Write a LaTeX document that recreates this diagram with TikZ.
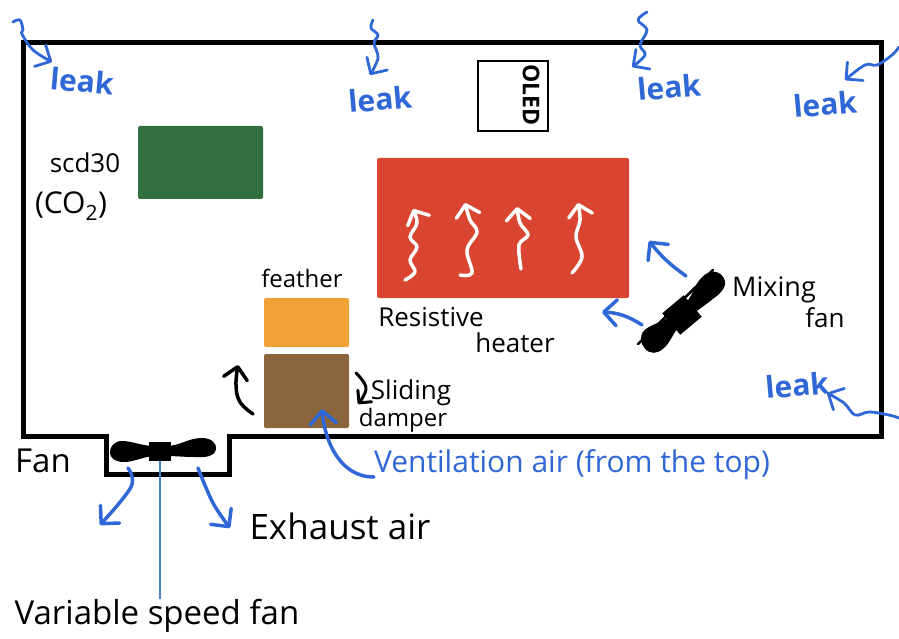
\documentclass[tikz,border=0pt]{standalone}
\usepackage{fontspec}
\setmainfont{Open Sans}
\usepackage{xcolor}
\definecolor{leakblue}{RGB}{47,103,214}
\definecolor{wireblue}{RGB}{74,127,200}
\definecolor{sensorgreen}{RGB}{51,112,63}
\definecolor{heaterred}{RGB}{217,69,48}
\definecolor{featherorange}{RGB}{237,161,55}
\definecolor{damperbrown}{RGB}{139,102,60}
\usetikzlibrary{arrows.meta,positioning,calc}
\tikzset{
    panel/.style={rectangle, rounded corners=2pt, inner sep=0pt},
    blacktext/.style={inner sep=0pt, text=black, font=\fontsize{26}{30}\selectfont},
    bigtext/.style={inner sep=0pt, text=black, font=\fontsize{33}{36}\selectfont},
    bluetext/.style={inner sep=0pt, text=leakblue, font=\fontsize{30}{34}\selectfont},
    leaktext/.style={inner sep=0pt, text=leakblue, font=\fontsize{30}{34}\selectfont\bfseries},
    flow/.style={-{Straight Barb[length=13pt,width=26pt,round]}, draw=leakblue, line width=3.5pt, line cap=round, line join=round},
    leakflow/.style={-{Straight Barb[length=12pt,width=24pt,round]}, draw=leakblue, line width=2.8pt, line cap=round, line join=round},
    handarrow/.style={-{Straight Barb[length=12pt,width=24pt,round]}, draw=black, line width=3.5pt, line cap=round, line join=round},
    heatwave/.style={-{Straight Barb[length=11pt,width=24pt,round]}, draw=white, line width=3.5pt, line cap=round, line join=round},
    fanhub/.style={rectangle, fill=black, minimum width=22pt, minimum height=19pt, inner sep=0pt},
}
\newcommand{\fanblades}{
    \fill[black] (6,-5) .. controls (20,-5) and (28,-13) .. (42,-13) .. controls (52,-13) and (57,-7) .. (56,-2) .. controls (55,5) and (46,7) .. (34,6) .. controls (24,6) and (16,5) .. (6,5) -- cycle;
    \fill[black] (-6,-5) .. controls (-18,-5) and (-28,-10) .. (-38,-10) .. controls (-46,-10) and (-50,-4) .. (-50,1) .. controls (-50,8) and (-44,11) .. (-36,11) .. controls (-26,11) and (-18,6) .. (-6,5) -- cycle;
}

\begin{document}
\begin{tikzpicture}[x=1pt, y=-1pt]
    \useasboundingbox (0,0) rectangle (899,639);

    % Enclosure
    \draw[line width=5pt, line join=miter] (23,43) -- (881,43) -- (881,436) -- (229,436) -- (229,474) -- (106,474) -- (106,436) -- (23,436) -- cycle;

    % Components
    \node[panel, fill=sensorgreen, minimum width=125pt, minimum height=73pt] (scd) at (200.5,162.5) {};
    \node[panel, fill=heaterred, minimum width=252pt, minimum height=140pt] (heater) at (503,228) {};
    \node[panel, fill=featherorange, minimum width=85pt, minimum height=49pt] (feather) at (306.5,322.5) {};
    \node[panel, fill=damperbrown, minimum width=85pt, minimum height=74pt] (damper) at (306.5,391) {};
    \node[draw=black, line width=1.3pt, minimum width=70pt, minimum height=70pt, inner sep=0pt] (oled) at (513,96) {};
    \node[inner sep=0pt, rotate=-90, font=\fontsize{23}{23}\selectfont\bfseries] (oledtext) at (531,95) {OLED};

    % Fans
    \begin{scope}[shift={(160,451)}]
        \fanblades
    \end{scope}
    \node[fanhub] (exhfan) at (160,451) {};
    \begin{scope}[shift={(682,315)}, rotate=40, yscale=1.25]
        \fanblades
    \end{scope}
    \node[fanhub, rotate=40, minimum width=28pt, minimum height=28pt] (mixfan) at (682,315) {};
    \coordinate (mixlinea) at (638,344);
    \coordinate (mixlineb) at (713,270);
    \draw[line width=2.5pt, line cap=round] (mixlinea) -- (mixlineb);

    % Labels
    \node[blacktext] (scdlabel) at (85,163) {scd30};
    \node[blacktext, font=\fontsize{30}{32}\selectfont] (co2label) at (71,206) {(CO\textsubscript{2})};
    \node[blacktext, font=\fontsize{24}{28}\selectfont] (featherlabel) at (302,278) {feather};
    \node[blacktext] (reslabel) at (431,317) {Resistive};
    \node[blacktext] (heaterlabel) at (515,343) {heater};
    \node[blacktext, font=\fontsize{27}{30}\selectfont] (mixlabel) at (774,290) {Mixing};
    \node[blacktext] (fanlabelb) at (825,318) {fan};
    \node[blacktext] (slidelabel) at (411,393) {Sliding};
    \node[blacktext, font=\fontsize{24}{26}\selectfont] (damperlabel) at (403,420) {damper};
    \node[bigtext] (fanlabel) at (43,461) {Fan};
    \node[bigtext, font=\fontsize{35}{38}\selectfont] (exhlabel) at (340,526) {Exhaust air};
    \node[bigtext] (varlabel) at (157,616) {Variable speed fan};
    \node[bluetext] (ventlabel) at (572,465) {Ventilation air (from the top)};
    \node[leaktext, rotate=-5] (leaka) at (82,81) {leak};
    \node[leaktext, rotate=5] (leakb) at (380,99) {leak};
    \node[leaktext, rotate=5] (leakc) at (669,87) {leak};
    \node[leaktext, rotate=5] (leakd) at (825,104) {leak};
    \node[leaktext, rotate=5] (leake) at (797,385) {leak};

    % Leak arrows
    \coordinate (leaksrca) at (13,22);
    \coordinate (leaktipa) at (52,62);
    \coordinate (leaksrcb) at (373,20);
    \coordinate (leaktipb) at (370,75);
    \coordinate (leaksrcc) at (647,12);
    \coordinate (leaktipc) at (632,67);
    \coordinate (leaksrcd) at (899,47);
    \coordinate (leaktipd) at (845,80);
    \coordinate (leaksrce) at (899,418);
    \coordinate (leaktipe) at (827,393);
    \draw[leakflow] plot[smooth, tension=0.6] coordinates {(leaksrca) (20,20) (23,30) (22,34) (33,50) (leaktipa)};
    \draw[leakflow] plot[smooth, tension=0.6] coordinates {(leaksrcb) (371,28) (378,35) (374,43) (378,58) (leaktipb)};
    \draw[leakflow] plot[smooth, tension=0.6] coordinates {(leaksrcc) (638,20) (647,30) (640,45) (645,55) (leaktipc)};
    \draw[leakflow] plot[smooth, tension=0.6] coordinates {(leaksrcd) (892,55) (877,65) (865,65) (leaktipd)};
    \draw[leakflow] plot[smooth, tension=0.6] coordinates {(leaksrce) (889,415) (869,412) (855,415) (844,403) (leaktipe)};

    % Heat waves
    \draw[heatwave] plot[smooth, tension=0.6] coordinates {(405,280) (415,272) (410,260) (417,247) (410,237) (417,223) (413,209)};
    \draw[heatwave] plot[smooth, tension=0.6] coordinates {(460,275) (472,273) (467,250) (477,232) (470,220) (465,203)};
    \draw[heatwave] plot[smooth, tension=0.6] coordinates {(521,269) (519,245) (528,235) (520,223) (517,207)};
    \draw[heatwave] plot[smooth, tension=0.6] coordinates {(572,273) (582,257) (576,237) (580,220) (578,203)};

    % Arrows
    \coordinate (mixsrca) at (686,276);
    \coordinate (mixtipa) at (649,241);
    \coordinate (mixsrcb) at (642,325);
    \coordinate (mixtipb) at (602,312);
    \coordinate (venttip) at (322,409);
    \coordinate (exhsrca) at (128,468);
    \coordinate (exhtipa) at (100,525);
    \coordinate (exhsrcb) at (198,468);
    \coordinate (exhtipb) at (230,528);
    \coordinate (dampersrc) at (253,414);
    \coordinate (dampertip) at (238,365);
    \coordinate (slidesrc) at (356,373);
    \coordinate (slidetip) at (358,404);
    \draw[flow] (mixsrca) to[bend left=8] (mixtipa);
    \draw[flow] (mixsrcb) to[bend right=15] (mixtipb);
    \draw[flow] (ventlabel.west) ++(0,12) to[out=180, in=-85] (venttip);
    \draw[flow] plot[smooth, tension=0.6] coordinates {(exhsrca) (131,487) (exhtipa)};
    \draw[flow] plot[smooth, tension=0.6] coordinates {(exhsrcb) (213,503) (exhtipb)};
    \draw[handarrow] plot[smooth, tension=0.7] coordinates {(dampersrc) (240,402) (236,385) (dampertip)};
    \draw[handarrow, line width=3pt, -{Straight Barb[length=9pt,width=18pt,round]}] plot[smooth, tension=0.7] coordinates {(slidesrc) (366,388) (slidetip)};
    \draw[line width=1.5pt, draw=wireblue] (exhfan) -- (exhfan |- varlabel.north);
\end{tikzpicture}
\end{document}
